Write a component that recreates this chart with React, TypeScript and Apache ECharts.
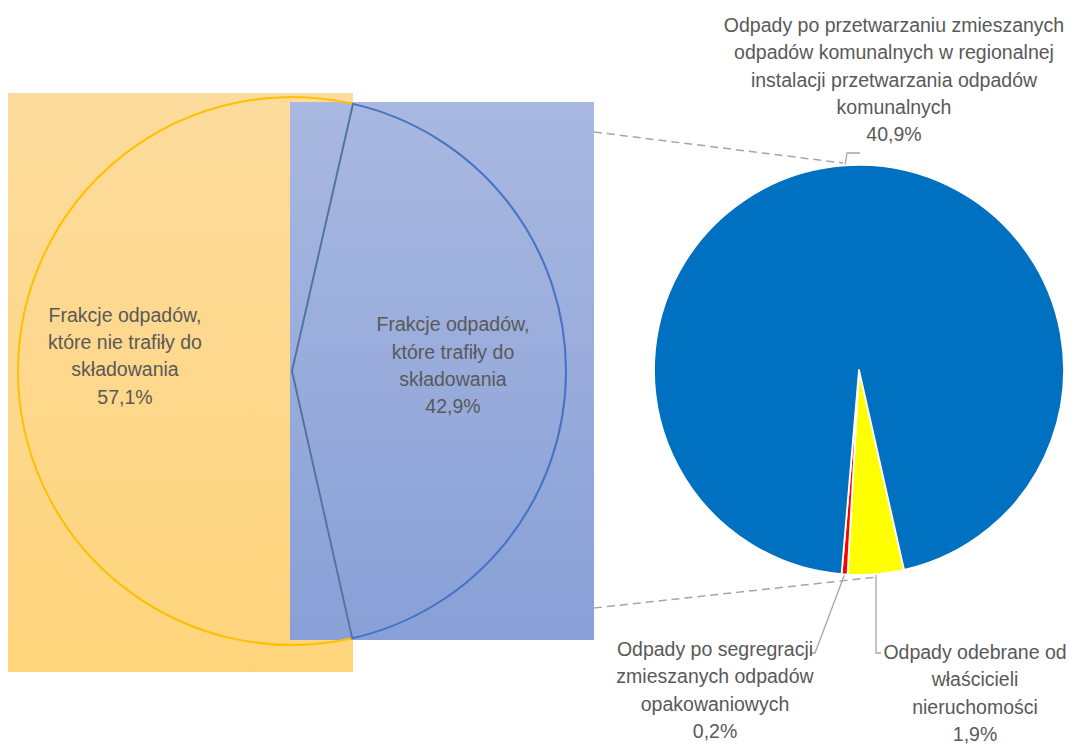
import React, { useEffect, useRef } from "react";
import * as echarts from "echarts";

// ---- data ----
const mainCategories = [
  "Frakcje odpadów,\nktóre nie trafiły do\nskładowania",
  "Frakcje odpadów,\nktóre trafiły do\nskładowania",
];
const mainValues = [57.1, 42.9];
const mainBorderColors = ["#FFC000", "#4472C4"];

const subCategories = [
  "Odpady odebrane od\nwłaścicieli\nnieruchomości",
  "Odpady po segregracji\nzmieszanych odpadów\nopakowaniowych",
  "Odpady po przetwarzaniu zmieszanych\nodpadów komunalnych w regionalnej\ninstalacji przetwarzania odpadów\nkomunalnych",
];
const subValues = [1.9, 0.2, 40.9];
const subColors = ["#FFFF00", "#FF0000", "#0070C0"];

// ---- layout ----
const FONT = "'Liberation Sans', Arial, sans-serif";
const TEXT = "#595959";
const MAIN_C = [292, 371];
const MAIN_R = 274;
const SUB_C = [859, 370];
const SUB_R = 205;
const START = -77.3;

const mainLabelShift = [
  { dx: -27, dy: -15 },
  { dx: 21, dy: -6 },
];
const subLabelPos = [
  { x: 975, y: 693 },
  { x: 715, y: 690 },
  { x: 894, y: 79.5 },
];
// leader bends: [bendX|null (null = keep start x), bendY, endX, endY]
const subGuides = [
  { bx: null as number | null, by: 653, ex: 881, ey: 653 },
  { bx: 815 as number | null, by: 653, ex: 810, ey: 653 },
  { bx: 847 as number | null, by: 153, ex: 860, ey: 153 },
];

const fmt = (v: number) => v.toFixed(1).replace(".", ",") + "%";

export default function App() {
  const ref = useRef<HTMLDivElement>(null);
  useEffect(() => {
    if (!ref.current) return;
    const chart = echarts.init(ref.current, null, { renderer: "svg" });
    const labelBase = {
      color: TEXT,
      fontSize: 19.5,
      lineHeight: 27.4,
      fontFamily: FONT,
      align: "center" as const,
    };
    const grad = (a: string, b: string) => ({
      type: "linear",
      x: 0,
      y: 0,
      x2: 0,
      y2: 1,
      colorStops: [
        { offset: 0, color: a },
        { offset: 1, color: b },
      ],
    });
    chart.setOption({
      animation: false,
      backgroundColor: "#ffffff",
      graphic: [
        {
          type: "rect",
          z: 0,
          silent: true,
          shape: { x: 8, y: 93, width: 345, height: 579 },
          style: { fill: grad("#FCDB9C", "#FFD57C") },
        },
        {
          type: "rect",
          z: 1,
          silent: true,
          shape: { x: 290, y: 102, width: 304, height: 538 },
          style: { fill: grad("#A9B8E0", "#88A0D7") },
        },
        {
          type: "line",
          z: 1,
          silent: true,
          shape: { x1: 594, y1: 132, x2: 843, y2: 163 },
          style: { stroke: "#A6A6A6", lineWidth: 1.5, lineDash: [8, 5] },
        },
        {
          type: "line",
          z: 1,
          silent: true,
          shape: { x1: 594, y1: 608, x2: 877, y2: 577 },
          style: { stroke: "#A6A6A6", lineWidth: 1.5, lineDash: [8, 5] },
        },
      ],
      series: [
        {
          type: "pie",
          z: 5,
          silent: true,
          center: MAIN_C,
          radius: MAIN_R,
          startAngle: START,
          clockwise: true,
          emphasis: { disabled: true },
          data: mainCategories.map((name, i) => ({
            name,
            value: mainValues[i],
            itemStyle: {
              color: "rgba(0,0,0,0)",
              borderColor: mainBorderColors[i],
              borderWidth: 2,
            },
          })),
          label: {
            ...labelBase,
            position: "inside",
            formatter: (p: any) => p.name + "\n" + fmt(p.value),
          },
          labelLine: { show: false },
          labelLayout: (p: any) => mainLabelShift[p.dataIndex],
        },
        {
          type: "pie",
          z: 5,
          silent: true,
          center: SUB_C,
          radius: SUB_R,
          startAngle: START,
          clockwise: true,
          emphasis: { disabled: true },
          avoidLabelOverlap: false,
          data: subCategories.map((name, i) => ({
            name,
            value: subValues[i],
            itemStyle: {
              color: subColors[i],
              borderColor: "#ffffff",
              borderWidth: 1.8,
            },
          })),
          label: {
            ...labelBase,
            position: "outside",
            formatter: (p: any) => p.name + "\n" + fmt(p.value),
          },
          labelLine: {
            show: true,
            length: 8,
            length2: 6,
            lineStyle: { color: "#A6A6A6", width: 1.3 },
          },
          labelLayout: (p: any) => {
            const pos = subLabelPos[p.dataIndex];
            const g = subGuides[p.dataIndex];
            const out: any = {
              x: pos.x,
              y: pos.y,
              align: "center",
              verticalAlign: "middle",
            };
            if (p.labelLinePoints && p.labelLinePoints[0]) {
              const p0 = p.labelLinePoints[0];
              out.labelLinePoints = [
                [p0[0], p0[1]],
                [g.bx == null ? p0[0] : g.bx, g.by],
                [g.ex, g.ey],
              ];
            }
            return out;
          },
        },
      ],
    });
    return () => chart.dispose();
  }, []);
  return (
    <div
      ref={ref}
      style={{ position: "absolute", left: 0, top: 0, width: 1071, height: 744 }}
    />
  );
}
